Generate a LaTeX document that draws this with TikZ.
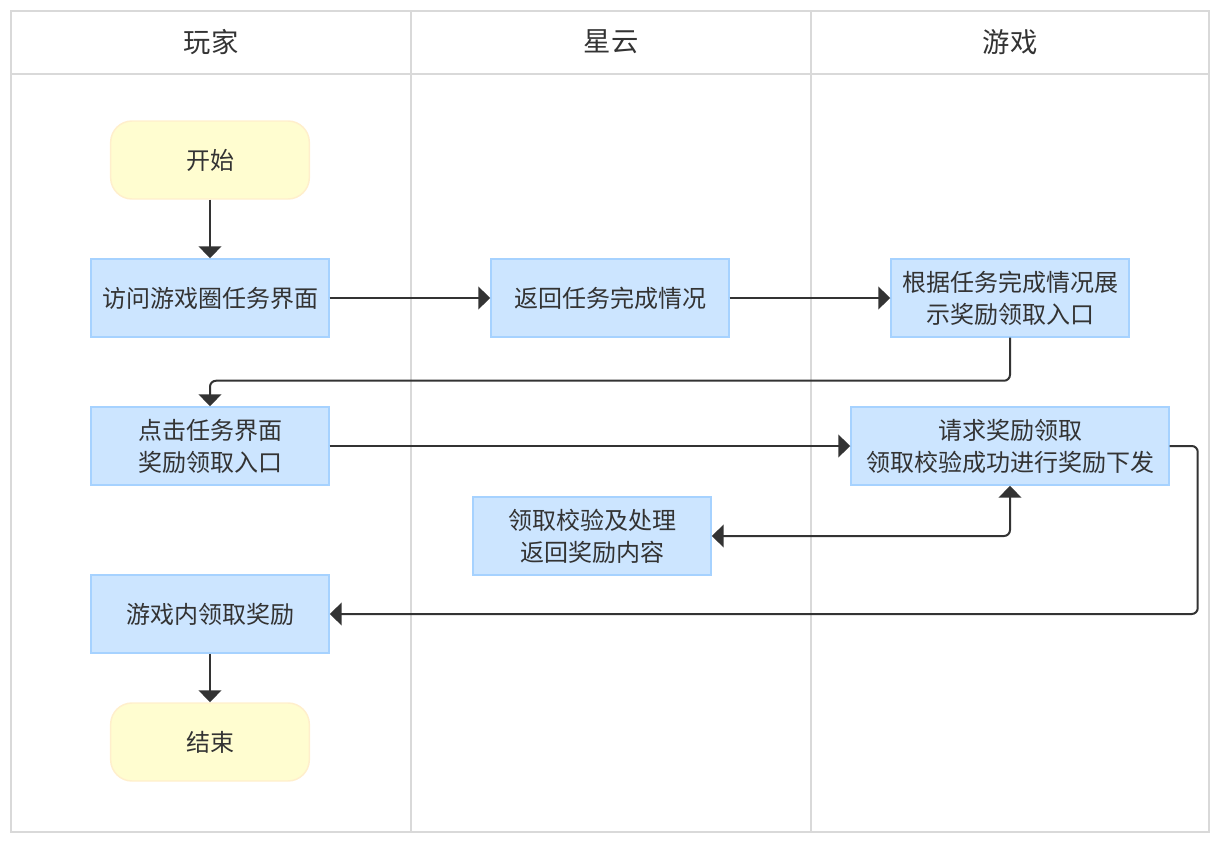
\documentclass[tikz,border=0pt]{standalone}
\usepackage{fontspec}
\setmainfont{Noto Sans CJK SC}
\usetikzlibrary{arrows.meta}
\definecolor{lane}{HTML}{D9D9D9}
\definecolor{txt}{HTML}{333333}
\definecolor{bfill}{HTML}{CCE5FF}
\definecolor{bdraw}{HTML}{A6D2FF}
\definecolor{yfill}{HTML}{FFFDD0}
\definecolor{ydraw}{HTML}{FFEFCC}
\tikzset{
  proc/.style={rectangle, fill=bfill, draw=bdraw, line width=1.1pt, minimum width=178.5pt, minimum height=58.5pt, inner sep=0pt, align=center, text=txt, font=\fontsize{18}{24}\selectfont},
  term/.style={rectangle, rounded corners=16pt, fill=yfill, draw=ydraw, line width=1.1pt, minimum width=149pt, minimum height=58.5pt, inner sep=0pt, align=center, text=txt, font=\fontsize{18}{24}\selectfont},
  hdr/.style={text=txt, font=\fontsize{20.5}{24}\selectfont},
  conn/.style={draw=txt, line width=1.5pt, -{Triangle[length=9pt,width=17pt]}, rounded corners=4.5pt},
}
\begin{document}
\begin{tikzpicture}[x=0.75pt,y=-0.75pt]
\useasboundingbox (0,0) rectangle (1222,846);
% lanes
\draw[lane, line width=1.5pt] (11,11) rectangle (1209,832);
\draw[lane, line width=1.5pt] (11,74) -- (1209,74);
\draw[lane, line width=1.5pt] (411,11) -- (411,832);
\draw[lane, line width=1.5pt] (811,11) -- (811,832);
\node[hdr] (h1) at (211,42) {玩家};
\node[hdr] (h2) at (611,42) {星云};
\node[hdr] (h3) at (1010,42) {游戏};
% nodes
\node[term] (s) at (210,160) {开始};
\node[proc] (a) at (210,298) {访问游戏圈任务界面};
\node[proc] (b) at (610,298) {返回任务完成情况};
\node[proc] (c) at (1010,298) {根据任务完成情况展\\示奖励领取入口};
\node[proc] (d) at (210,446) {点击任务界面\\奖励领取入口};
\node[proc, minimum width=238.5pt] (e) at (1010,446) {请求奖励领取\\领取校验成功进行奖励下发};
\node[proc] (f) at (592,536) {领取校验及处理\\返回奖励内容};
\node[proc] (g) at (210,614) {游戏内领取奖励};
\node[term] (t) at (210,742) {结束};
% connectors
\draw[conn] (s.south) -- (a.north);
\draw[conn] (a.east) -- (b.west);
\draw[conn] (b.east) -- (c.west);
\draw[conn] (c.south) -- ++(0,43) -| (d.north);
\draw[conn] (d.east) -- (e.west);
\draw[conn, {Triangle[length=9pt,width=17pt]}-{Triangle[length=9pt,width=17pt]}] (f.east) -| (e.south);
\draw[conn] (e.east) -- ++(28,0) |- (g.east);
\draw[conn] (g.south) -- (t.north);
\end{tikzpicture}
\end{document}
